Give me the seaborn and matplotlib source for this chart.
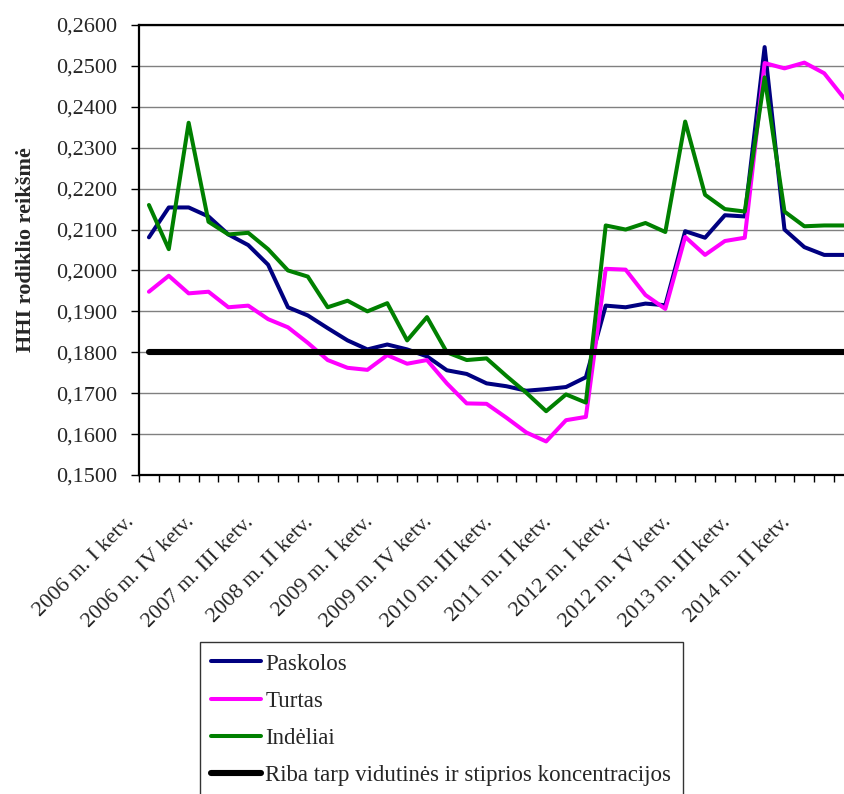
import numpy as np
import pandas as pd
import matplotlib.pyplot as plt
import matplotlib.transforms as mtransforms
import seaborn as sns
from matplotlib.ticker import FuncFormatter, MultipleLocator

years = [2006, 2007, 2008, 2009, 2010, 2011, 2012, 2013, 2014]
quarters = ["I", "II", "III", "IV"]
ketv = [f"{y} m. {q} ketv." for y in years for q in quarters]

paskolos = [0.2081, 0.2154, 0.2154, 0.2132, 0.2088, 0.2062, 0.2014, 0.1910,
            0.1890, 0.1859, 0.1829, 0.1807, 0.1819, 0.1807, 0.1790, 0.1756,
            0.1747, 0.1724, 0.1717, 0.1706, 0.1710, 0.1715, 0.1739, 0.1914,
            0.1910, 0.1919, 0.1915, 0.2096, 0.2080, 0.2135, 0.2132, 0.2546,
            0.2100, 0.2057, 0.2038, 0.2038]
turtas = [0.1948, 0.1987, 0.1944, 0.1948, 0.1910, 0.1914, 0.1881, 0.1861,
          0.1823, 0.1781, 0.1762, 0.1757, 0.1793, 0.1772, 0.1781, 0.1724,
          0.1675, 0.1674, 0.1640, 0.1604, 0.1582, 0.1634, 0.1642, 0.2004,
          0.2002, 0.1940, 0.1906, 0.2082, 0.2038, 0.2072, 0.2080, 0.2507,
          0.2494, 0.2508, 0.2482, 0.2421]
indeliai = [0.2160, 0.2052, 0.2361, 0.2119, 0.2088, 0.2092, 0.2052, 0.2000,
            0.1985, 0.1910, 0.1926, 0.1900, 0.1920, 0.1829, 0.1886, 0.1800,
            0.1781, 0.1785, 0.1742, 0.1701, 0.1656, 0.1697, 0.1677, 0.2110,
            0.2100, 0.2116, 0.2094, 0.2364, 0.2185, 0.2150, 0.2144, 0.2472,
            0.2144, 0.2108, 0.2110, 0.2110]
riba = 0.18

df = pd.DataFrame({"ketv": ketv, "Paskolos": paskolos, "Turtas": turtas,
                   "Indėliai": indeliai, "riba": [riba] * len(ketv)})
df["x"] = np.arange(len(df))

sns.set_style("white")
plt.rcParams["font.family"] = ["Liberation Serif", "DejaVu Serif"]

fig = plt.figure(figsize=(8.44, 7.94), dpi=100)
# plot area runs past the right edge, like the cropped original
ax = fig.add_axes([139 / 844, 319 / 794, 715 / 844, 450 / 794])

ax.yaxis.grid(True, color="#808080", lw=1.0)
ax.set_axisbelow(True)

sns.lineplot(data=df, x="x", y="Paskolos", color="#000080", lw=2.9, ax=ax, label="Paskolos")
sns.lineplot(data=df, x="x", y="Turtas", color="#FF00FF", lw=2.9, ax=ax, label="Turtas")
sns.lineplot(data=df, x="x", y="Indėliai", color="#008000", lw=2.9, ax=ax, label="Indėliai")
sns.lineplot(data=df, x="x", y="riba", color="black", lw=4.4, ax=ax,
             label="Riba tarp vidutinės ir stiprios koncentracijos")

ax.set_xlim(-0.5, len(df) - 0.5)
ax.set_ylim(0.15, 0.26)
ax.yaxis.set_major_locator(MultipleLocator(0.01))
ax.yaxis.set_major_formatter(FuncFormatter(lambda v, p: f"{v:.4f}".replace(".", ",")))
ax.tick_params(axis="y", direction="out", length=6, width=1, color="black",
               labelsize=16, pad=10, left=True)

ax.set_xticks(df["x"][::3])
ax.set_xticklabels(df["ketv"][::3], rotation=45, ha="right", va="center",
                   rotation_mode="anchor", fontsize=16)
ax.set_xticks(np.arange(-0.5, len(df)), minor=True)
ax.tick_params(axis="x", which="major", length=0, pad=32)
ax.tick_params(axis="x", which="minor", direction="out", length=5, width=1,
               color="black", bottom=True)
shift = mtransforms.ScaledTranslation(-17 / 100, 0, fig.dpi_scale_trans)
for t in ax.get_xticklabels():
    t.set_transform(t.get_transform() + shift)

ax.set_xlabel("")
ax.set_ylabel("HHI rodiklio reikšmė", fontsize=16, fontweight="bold")
ax.yaxis.set_label_coords(-0.144, 0.5)

for side in ["left", "bottom", "top"]:
    ax.spines[side].set_color("black")
    ax.spines[side].set_linewidth(1.6)
ax.spines["right"].set_visible(False)

h, l = ax.get_legend_handles_labels()
ax.get_legend().remove()
leg = fig.legend(h, l, loc="upper left", bbox_to_anchor=(200 / 844, 1 - 642 / 794),
                 fontsize=16.5, frameon=True, fancybox=False, edgecolor="black",
                 handlelength=2.15, handletextpad=0.2, labelspacing=0.7,
                 borderpad=0.5, borderaxespad=0)
leg.get_frame().set_linewidth(1.0)

plt.savefig("out.png", dpi=100)
